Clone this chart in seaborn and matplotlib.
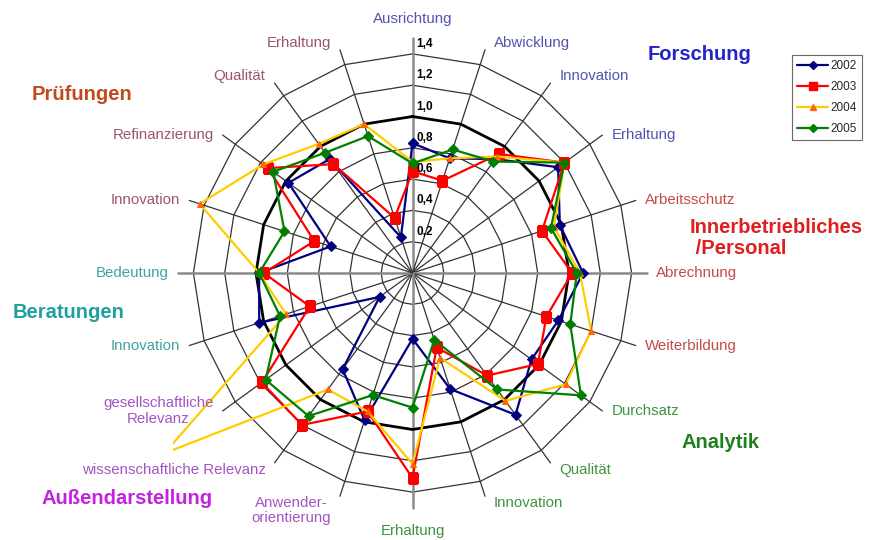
import numpy as np
import matplotlib
matplotlib.use('Agg')
import matplotlib.pyplot as plt
import seaborn as sns
from matplotlib.patches import Rectangle
from matplotlib.lines import Line2D

# ================= Daten =================
categories = ['Ausrichtung', 'Abwicklung', 'Innovation', 'Erhaltung',
              'Arbeitsschutz', 'Abrechnung', 'Weiterbildung',
              'Durchsatz', 'Qualität', 'Innovation', 'Erhaltung',
              'Anwender-\norientierung', 'wissenschaftliche Relevanz', 'gesellschaftliche\nRelevanz',
              'Innovation', 'Bedeutung',
              'Innovation', 'Refinanzierung', 'Qualität', 'Erhaltung']
# Gruppe je Achse (Index in groups)
category_group = [0, 0, 0, 0, 1, 1, 1, 2, 2, 2, 2, 3, 3, 3, 4, 4, 5, 5, 5, 5]
groups = ['Forschung', 'Innerbetriebliches\n /Personal', 'Analytik',
          'Außendarstellung', 'Beratungen', 'Prüfungen']

years = ['2002', '2003', '2004', '2005']
v2002 = [0.83, 0.77, 0.90, 1.15, 0.99, 1.09, 0.98, 0.94, 1.12, 0.78,
         0.42, 0.99, 0.76, 0.26, 1.03, 0.98, 0.55, 0.98, 0.90, 0.24]
v2003 = [0.65, 0.62, 0.94, 1.20, 0.87, 1.02, 0.90, 0.99, 0.81, 0.50,
         1.31, 0.93, 1.20, 1.19, 0.69, 0.95, 0.66, 1.14, 0.86, 0.37]
v2004 = [0.71, 0.77, 0.92, 1.20, 0.95, 1.07, 1.20, 1.21, 1.01, 0.57,
         1.22, 0.93, 0.92, 1.96, 0.85, 0.98, 1.43, 1.18, 1.02, 1.00]
v2005 = [0.70, 0.83, 0.88, 1.20, 0.93, 1.05, 1.06, 1.33, 0.92, 0.45,
         0.86, 0.82, 1.13, 1.16, 0.89, 0.98, 0.86, 1.10, 0.95, 0.92]
ring_ticks = [0.2, 0.4, 0.6, 0.8, 1.0, 1.2, 1.4]

# ================= Stil =================
sns.set_style('white')
plt.rcParams['font.family'] = ['Liberation Sans', 'DejaVu Sans']

label_colors = ['#5454b0', '#c44a4a', '#3f943f', '#a455c4', '#3fa3a3', '#9c5474']
title_colors = ['#2323c8', '#e01e1e', '#1f801f', '#c322e0', '#1fa0a0', '#c2491b']
title_pos = [(700, 55, 'center'), (690, 238, 'left'), (721, 443, 'center'),
             (127, 499, 'center'), (69, 312, 'center'), (82, 95, 'center')]

series_style = {
    '2002': dict(color='#000080', marker='D', mfc='#000080', ms=5),
    '2003': dict(color='#ff0000', marker='s', mfc='#ff0000', ms=7),
    '2004': dict(color='#ffcc00', marker='^', mfc='#ff6600', ms=5),
    '2005': dict(color='#008000', marker='D', mfc='#008000', ms=5),
}

W, H = 869, 540
cx, cy, scale, rlim = 412.5, 273.0, 156.5, 1.55
rad = rlim * scale

fig = plt.figure(figsize=(W / 100, H / 100), dpi=100)
ax = fig.add_axes([(cx - rad) / W, (H - cy - rad) / H, 2 * rad / W, 2 * rad / H],
                  projection='polar')
ax.set_theta_offset(np.pi / 2)
ax.set_theta_direction(-1)
ax.set_ylim(0, rlim)
ax.grid(False)
ax.set_xticks([])
ax.set_yticks([])
ax.spines['polar'].set_visible(False)

n = len(categories)
theta = np.linspace(0, 2 * np.pi, n, endpoint=False)
theta_c = np.append(theta, 2 * np.pi)

# Netz (Polygone + Speichen)
for r in ring_ticks:
    if r == 1.0:
        ax.plot(theta_c, [r] * (n + 1), color='black', lw=2.0, zorder=2)
    else:
        ax.plot(theta_c, [r] * (n + 1), color='#333333', lw=0.9, zorder=1)
for i, t in enumerate(theta):
    if i % 5 == 0:
        ax.plot([t, t], [0, 1.5], color='#8a8a8a', lw=1.8, zorder=1)
    else:
        ax.plot([t, t], [0, 1.5], color='#333333', lw=0.9, zorder=1)

# Achsenbeschriftung der Werte
for r in ring_ticks:
    ax.annotate(f'{r:.1f}'.replace('.', ','), xy=(0, r), xytext=(4, 4),
                textcoords='offset pixels', ha='left', va='bottom',
                fontsize=8.5, fontweight='bold', color='black', zorder=5)

# Datenreihen
values = {'2002': v2002, '2003': v2003, '2004': v2004, '2005': v2005}
for y in years:
    st = series_style[y]
    vals = values[y] + values[y][:1]
    sns.lineplot(x=theta_c, y=vals, sort=False, ax=ax, color=st['color'], lw=1.6,
                 marker=st['marker'], markersize=st['ms'], markerfacecolor=st['mfc'],
                 markeredgecolor=st['mfc'], zorder=3)
    line = ax.lines[-1]
    if y == '2004':
        # wie im Original am Rand der Zeichenfläche abgeschnitten
        clip = Rectangle((173 / W, 0), 1, 1, transform=fig.transFigure)
        line.set_clip_path(clip)

# Kategorien
for i, (t, lab) in enumerate(zip(theta, categories)):
    s, c = np.sin(t), np.cos(t)
    if abs(s) < 0.1:
        ha, dx = 'center', 0
    elif s > 0:
        ha, dx = 'left', 9
    else:
        ha, dx = 'right', -9
    if abs(c) < 0.65:
        va, dy = 'center', 0
    elif c > 0:
        va, dy = 'bottom', (12 if abs(s) < 0.1 else 0)
    else:
        va, dy = 'top', (-16 if abs(s) < 0.1 else 0)
    ax.annotate(lab, xy=(t, 1.5), xytext=(dx, dy), textcoords='offset pixels',
                ha=ha, va=va, fontsize=10.8, color=label_colors[category_group[i]],
                annotation_clip=False, multialignment='center', linespacing=1.1)

# Gruppentitel
for g, (x, yy, ha) in enumerate(title_pos):
    fig.text(x / W, 1 - yy / H, groups[g], ha=ha, va='center', fontsize=14.5,
             fontweight='bold', color=title_colors[g], linespacing=1.15)

# Legende
handles = [Line2D([], [], color=series_style[y]['color'], lw=1.6,
                  marker=series_style[y]['marker'], markersize=series_style[y]['ms'] - 1,
                  markerfacecolor=series_style[y]['mfc'],
                  markeredgecolor=series_style[y]['mfc']) for y in years]
leg = fig.legend(handles, years, loc='upper left', bbox_to_anchor=(792 / W, 1 - 55 / H),
                 fontsize=8.5, frameon=True, fancybox=False, handlelength=2.6,
                 handletextpad=0.2, borderpad=0.45, labelspacing=0.75,
                 borderaxespad=0)
leg.get_frame().set_edgecolor('#444444')
leg.get_frame().set_linewidth(0.8)

fig.savefig('out.png', dpi=100, facecolor='white')
